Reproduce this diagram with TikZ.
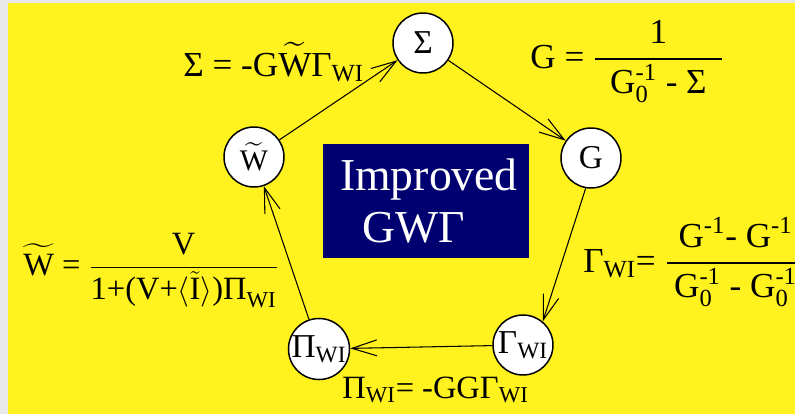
\documentclass[tikz,border=0pt]{standalone}
\usepackage{amsmath}
\usepackage{fontspec}
\setmainfont{Liberation Serif}
\usepackage{xcolor}
\usetikzlibrary{arrows.meta,positioning}
\definecolor{slideyellow}{RGB}{255,242,30}
\definecolor{slidegray}{RGB}{232,232,232}
\definecolor{boxnavy}{RGB}{0,0,112}
\newcommand{\tW}{\widetilde{\text{W}}}
\newcommand{\sWI}{$_\text{WI}$}
\tikzset{
  loopnode/.style={
    circle,
    draw=black,
    line width=0.85pt,
    fill=white,
    minimum size=1.2cm,
    inner sep=0pt,
    font=\fontsize{19}{22}\selectfont
  },
  eqlabel/.style={
    anchor=base west,
    inner sep=0pt,
    font=\fontsize{20}{24}\selectfont
  },
  titlebox/.style={
    rectangle,
    fill=boxnavy,
    minimum width=4.12cm,
    minimum height=2.28cm
  },
  titletext/.style={
    inner sep=0pt,
    text=white,
    font=\fontsize{26}{30}\selectfont
  },
  loopflow/.style={-{Straight Barb[length=5mm,width=3.2mm]}, line width=0.6pt, black}
}

\begin{document}
\begin{tikzpicture}[x=0.02cm,y=0.02cm]
% slide background
\fill[slidegray] (0,0) rectangle (795,414);
\fill[slideyellow] (8,0) rectangle (795,411);
\useasboundingbox (0,0) rectangle (795,414);

% the loop
\node[loopnode] (sigma) at (423,371) {Σ};
\node[loopnode] (gfun) at (591,256) {G};
\node[loopnode] (gamma) at (523,69) {Γ\sWI};
\node[loopnode] (pol) at (319,65) {Π\sWI};
\node[loopnode, font=\fontsize{17}{20}\selectfont] (wscr) at (254,257) {$\tW$};

\draw[loopflow] (wscr) -- (sigma);
\draw[loopflow] (sigma) -- (gfun);
\draw[loopflow] (gfun.260) -- (gamma.50);
\draw[loopflow] (gamma) -- (pol);
\draw[loopflow] (pol) -- (wscr);

% title
\node[titlebox] (box) at (426,213) {};
\node[titletext, anchor=base] (improved) at (429,224) {Improved};
\node[titletext, anchor=base west] (gwg) at (362,172) {GWΓ};

% equations
\node[eqlabel] (sigeq) at (183,338) {Σ = -G$\tW$Γ\sWI};
\node[eqlabel] (geq) at (530,346)
  {G = $\dfrac{\text{1}}{\hspace{0.3cm}\text{G}_\text{0}^\text{-1}\text{ - Σ}\hspace{0.3cm}}$};
\node[eqlabel, font=\fontsize{18.5}{22}\selectfont] (wteq) at (23,139)
  {$\tW$ = $\dfrac{\text{V}}{\text{1+(V+}\langle\tilde{\text{I}}\rangle\text{)Π}_\text{WI}}$};
\node[eqlabel] (gameq) at (583,142)
  {Γ\sWI= $\dfrac{\text{G}^\text{-1}\text{- G}^\text{-1}}{\hspace{0.15cm}\text{G}_\text{0}^\text{-1}\text{ - G}_\text{0}^\text{-1}\hspace{0.15cm}}$};
\node[eqlabel, font=\fontsize{18.5}{22}\selectfont] (poleq) at (342,16) {Π\sWI= -GGΓ\sWI};
\end{tikzpicture}
\end{document}
